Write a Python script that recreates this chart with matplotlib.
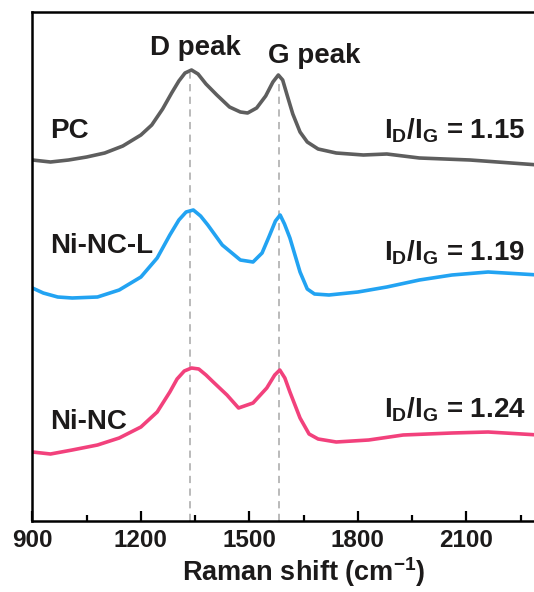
import matplotlib
matplotlib.use("Agg")
import matplotlib.pyplot as plt

plt.rcParams['font.family'] = ['Liberation Sans', 'DejaVu Sans']
plt.rcParams['font.weight'] = 'bold'
plt.rcParams['axes.labelweight'] = 'bold'
plt.rcParams['mathtext.fontset'] = 'custom'
plt.rcParams['mathtext.rm'] = 'Liberation Sans:bold'
plt.rcParams['mathtext.it'] = 'Liberation Sans:bold'
plt.rcParams['mathtext.bf'] = 'Liberation Sans:bold'
plt.rcParams['mathtext.default'] = 'rm'
plt.rcParams['text.color'] = '#1c1a1a'

# spectra (Raman shift, stacked intensity a.u.)
pc_x = [900, 950, 1000, 1050, 1100, 1150, 1200, 1230, 1260, 1285, 1305, 1322, 1340,
        1358, 1380, 1410, 1445, 1475, 1495, 1520, 1545, 1565, 1580, 1592, 1605, 1620,
        1640, 1660, 1690, 1740, 1815, 1880, 1970, 2110, 2300]
pc_y = [361, 359, 361, 364, 368, 375, 386, 396, 412, 428, 440, 448, 451,
        447, 437, 426, 414, 409, 408, 413, 425, 439, 446, 441, 425, 407,
        389, 379, 372, 368, 366, 367, 363, 361, 356]

nncl_x = [900, 930, 970, 1010, 1080, 1140, 1200, 1245, 1280, 1305, 1325, 1345, 1365,
          1385, 1425, 1475, 1510, 1535, 1555, 1572, 1585, 1597, 1612, 1640, 1660, 1680,
          1720, 1800, 1880, 1970, 2060, 2160, 2300]
nncl_y = [233, 228, 224, 223, 224, 231, 244, 263, 286, 301, 309, 311, 305,
          296, 276, 261, 259, 268, 285, 300, 306, 297, 283, 249, 232, 227,
          226, 229, 234, 241, 246, 249, 246]

nnc_x = [900, 950, 1010, 1080, 1140, 1200, 1245, 1280, 1300, 1320, 1340, 1360, 1380,
         1400, 1438, 1470, 1510, 1548, 1570, 1584, 1598, 1612, 1640, 1665, 1690, 1740,
         1830, 1925, 2060, 2160, 2300]
nnc_y = [69, 67, 71, 76, 83, 94, 109, 129, 142, 150, 153, 152, 146,
         139, 126, 113, 118, 133, 146, 151, 143, 129, 103, 87, 82, 79,
         81, 86, 88, 89, 86]

names = ['PC', 'Ni-NC-L', 'Ni-NC']
ratios = ['1.15', '1.19', '1.24']
colors = ['#5e5e5e', '#22a3f2', '#f2417c']
peak_pos = [1335, 1582]
peak_names = ['D peak', 'G peak']

fig = plt.figure(figsize=(5.34, 5.92), dpi=100)
W, H = 534, 592
# axes runs past the right edge of the figure like the cropped original
ax = fig.add_axes([32.4 / W, (H - 521) / H, 542.5 / W, 509 / H])

# dashed guides under the peaks
ax.vlines(peak_pos[0], 0, 448, colors='#b4b4b4', linestyles=(0, (4, 3)), lw=1.3, zorder=1)
ax.vlines(peak_pos[1], 0, 438, colors='#b4b4b4', linestyles=(0, (4, 3)), lw=1.3, zorder=1)

for xs, ys, c in [(pc_x, pc_y, colors[0]), (nncl_x, nncl_y, colors[1]), (nnc_x, nnc_y, colors[2])]:
    ax.plot(xs, ys, color=c, lw=2.6, zorder=2, solid_joinstyle='round')

ax.text(1352, 466, peak_names[0], fontsize=20, ha='center', va='baseline')
ax.text(1679, 458, peak_names[1], fontsize=20, ha='center', va='baseline')

label_y = [383, 268, 92]
ratio_y = [383, 261, 103]
for name, r, ly, ry in zip(names, ratios, label_y, ratio_y):
    ax.text(949, ly, name, fontsize=20, ha='left', va='baseline')
    ax.text(1871, ry, r'$\mathregular{I_D/I_G}$ = ' + r, fontsize=20, ha='left', va='baseline')

ax.set_xlim(900, 2400)
ax.set_ylim(0, 509)
ax.set_xticks([900, 1200, 1500, 1800, 2100])
ax.set_xticks([1050, 1350, 1650, 1950, 2250], minor=True)
ax.set_yticks([])
ax.tick_params(axis='x', which='major', direction='in', length=7.5, width=1.6,
               labelsize=17.5, pad=6, labelcolor='#1c1a1a')
ax.tick_params(axis='x', which='minor', direction='in', length=4.5, width=1.6)
for lab in ax.get_xticklabels():
    lab.set_fontweight('bold')
for s in ax.spines.values():
    s.set_linewidth(1.8)

ax.set_xlabel(r'Raman shift (cm$\mathregular{^{-1}}$)', fontsize=19.5, fontweight='bold',
              color='#1c1a1a', labelpad=2)

fig.savefig('out.png', dpi=100)
